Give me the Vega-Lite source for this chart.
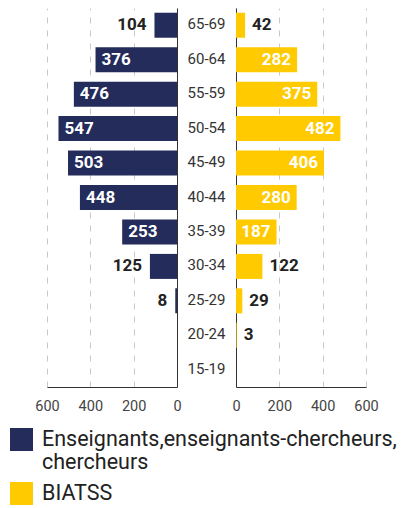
{
  "$schema": "https://vega.github.io/schema/vega-lite/v6.json",
  "padding": {"left": 10, "top": 8, "right": 5, "bottom": 2},
  "bounds": "flush",
  "spacing": 0,
  "config": {
    "view": {"stroke": null},
    "font": "Roboto",
    "legend": {
      "orient": "none",
      "legendX": -37,
      "legendY": 420,
      "symbolType": "square",
      "symbolSize": 529,
      "symbolStrokeWidth": 0,
      "labelFont": "Roboto",
      "labelFontSize": 21.5,
      "labelColor": "#222222",
      "labelOffset": 9,
      "labelLimit": 400,
      "rowPadding": 8,
      "title": null
    }
  },
  "datasets": {
    "pyramid": [
      {"age": "65-69", "group": "Enseignants,enseignants-chercheurs, chercheurs", "value": 104},
      {"age": "60-64", "group": "Enseignants,enseignants-chercheurs, chercheurs", "value": 376},
      {"age": "55-59", "group": "Enseignants,enseignants-chercheurs, chercheurs", "value": 476},
      {"age": "50-54", "group": "Enseignants,enseignants-chercheurs, chercheurs", "value": 547},
      {"age": "45-49", "group": "Enseignants,enseignants-chercheurs, chercheurs", "value": 503},
      {"age": "40-44", "group": "Enseignants,enseignants-chercheurs, chercheurs", "value": 448},
      {"age": "35-39", "group": "Enseignants,enseignants-chercheurs, chercheurs", "value": 253},
      {"age": "30-34", "group": "Enseignants,enseignants-chercheurs, chercheurs", "value": 125},
      {"age": "25-29", "group": "Enseignants,enseignants-chercheurs, chercheurs", "value": 8},
      {"age": "20-24", "group": "Enseignants,enseignants-chercheurs, chercheurs", "value": 0},
      {"age": "15-19", "group": "Enseignants,enseignants-chercheurs, chercheurs", "value": 0},
      {"age": "65-69", "group": "BIATSS", "value": 42},
      {"age": "60-64", "group": "BIATSS", "value": 282},
      {"age": "55-59", "group": "BIATSS", "value": 375},
      {"age": "50-54", "group": "BIATSS", "value": 482},
      {"age": "45-49", "group": "BIATSS", "value": 406},
      {"age": "40-44", "group": "BIATSS", "value": 280},
      {"age": "35-39", "group": "BIATSS", "value": 187},
      {"age": "30-34", "group": "BIATSS", "value": 122},
      {"age": "25-29", "group": "BIATSS", "value": 29},
      {"age": "20-24", "group": "BIATSS", "value": 3},
      {"age": "15-19", "group": "BIATSS", "value": 0}
    ]
  },
  "data": {"name": "pyramid"},
  "resolve": {"scale": {"color": "shared", "x": "independent", "y": "independent"}, "legend": {"color": "shared"}},
  "hconcat": [
    {
      "width": 130,
      "height": 379,
      "transform": [{"filter": "datum.group !== 'BIATSS'"}],
      "encoding": {
        "y": {
          "field": "age", "type": "nominal",
          "sort": ["65-69","60-64","55-59","50-54","45-49","40-44","35-39","30-34","25-29","20-24","15-19"],
          "scale": {"paddingInner": 0.274, "paddingOuter": 0.137},
          "axis": {"orient": "right", "title": null, "labels": false, "ticks": false, "domain": true, "domainColor": "#333333", "grid": false}
        },
        "x": {
          "field": "value", "type": "quantitative",
          "scale": {"domain": [0, 600], "reverse": true, "nice": false},
          "axis": {"orient": "bottom", "values": [0, 200, 400, 600], "title": null, "grid": true, "gridDash": [6, 7], "gridColor": "#c8c8c8", "ticks": false, "tickSize": 0, "domain": true, "domainColor": "#333333", "labelFont": "Roboto", "labelFontSize": 14.5, "labelColor": "#444444", "labelPadding": 12, "labelFlush": false}
        }
      },
      "layer": [
        {
          "mark": {"type": "bar"},
          "encoding": {
            "color": {"field": "group", "type": "nominal",
              "scale": {"domain": ["Enseignants,enseignants-chercheurs, chercheurs", "BIATSS"], "range": ["#232c5a", "#ffcb00"]},
              "legend": {"labelExpr": "datum.label == 'BIATSS' ? 'BIATSS' : ['Enseignants,enseignants-chercheurs,', 'chercheurs']"}
            }
          }
        },
        {
          "transform": [{"filter": "datum.value >= 150"}],
          "mark": {"type": "text", "align": "left", "dx": 6, "color": "#ffffff", "font": "Roboto", "fontWeight": "bold", "fontSize": 17},
          "encoding": {"text": {"field": "value", "type": "quantitative"}}
        },
        {
          "transform": [{"filter": "datum.value < 150 && datum.value > 0"}],
          "mark": {"type": "text", "align": "right", "dx": -8, "color": "#222222", "font": "Roboto", "fontWeight": "bold", "fontSize": 17},
          "encoding": {"text": {"field": "value", "type": "quantitative"}}
        }
      ]
    },
    {
      "width": 59,
      "height": 379,
      "transform": [{"filter": "datum.group === 'BIATSS'"}],
      "mark": {"type": "text", "font": "Roboto", "fontSize": 15, "color": "#333333", "dy": -1},
      "encoding": {
        "y": {
          "field": "age", "type": "nominal",
          "sort": ["65-69","60-64","55-59","50-54","45-49","40-44","35-39","30-34","25-29","20-24","15-19"],
          "scale": {"paddingInner": 0.274, "paddingOuter": 0.137},
          "axis": null
        },
        "text": {"field": "age", "type": "nominal"}
      }
    },
    {
      "width": 130,
      "height": 379,
      "transform": [{"filter": "datum.group === 'BIATSS'"}],
      "encoding": {
        "y": {
          "field": "age", "type": "nominal",
          "sort": ["65-69","60-64","55-59","50-54","45-49","40-44","35-39","30-34","25-29","20-24","15-19"],
          "scale": {"paddingInner": 0.274, "paddingOuter": 0.137},
          "axis": {"orient": "left", "title": null, "labels": false, "ticks": false, "domain": true, "domainColor": "#333333", "grid": false}
        },
        "x": {
          "field": "value", "type": "quantitative",
          "scale": {"domain": [0, 600], "nice": false},
          "axis": {"orient": "bottom", "values": [0, 200, 400, 600], "title": null, "grid": true, "gridDash": [6, 7], "gridColor": "#c8c8c8", "ticks": false, "tickSize": 0, "domain": true, "domainColor": "#333333", "labelFont": "Roboto", "labelFontSize": 14.5, "labelColor": "#444444", "labelPadding": 12, "labelFlush": false}
        }
      },
      "layer": [
        {
          "mark": {"type": "bar"},
          "encoding": {
            "color": {"field": "group", "type": "nominal",
              "scale": {"domain": ["Enseignants,enseignants-chercheurs, chercheurs", "BIATSS"], "range": ["#232c5a", "#ffcb00"]}
            }
          }
        },
        {
          "transform": [{"filter": "datum.value >= 150"}],
          "mark": {"type": "text", "align": "right", "dx": -6, "color": "#ffffff", "font": "Roboto", "fontWeight": "bold", "fontSize": 17},
          "encoding": {"text": {"field": "value", "type": "quantitative"}}
        },
        {
          "transform": [{"filter": "datum.value < 150 && datum.value > 0"}],
          "mark": {"type": "text", "align": "left", "dx": 7, "color": "#222222", "font": "Roboto", "fontWeight": "bold", "fontSize": 17},
          "encoding": {"text": {"field": "value", "type": "quantitative"}}
        }
      ]
    }
  ]
}
